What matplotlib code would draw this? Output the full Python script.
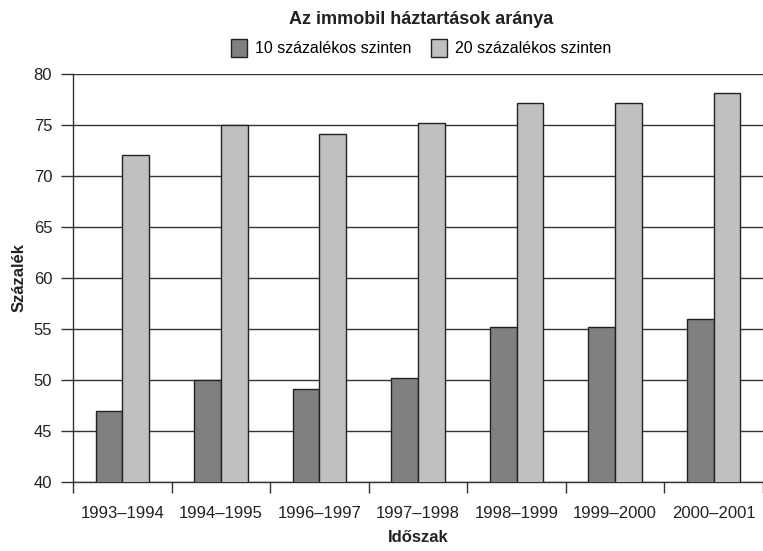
import numpy as np
import matplotlib
matplotlib.use("Agg")
import matplotlib.pyplot as plt
from matplotlib.patches import Patch

# Data
periods = ["1993–1994", "1994–1995", "1996–1997", "1997–1998",
           "1998–1999", "1999–2000", "2000–2001"]
level_10 = [47.0, 50.0, 49.1, 50.2, 55.2, 55.2, 56.0]
level_20 = [72.1, 75.0, 74.1, 75.2, 77.2, 77.2, 78.1]
series_names = ["10 százalékos szinten", "20 százalékos szinten"]
yticks = [40, 45, 50, 55, 60, 65, 70, 75, 80]

plt.rcParams['font.family'] = ["Liberation Sans", "DejaVu Sans"]

fig = plt.figure(figsize=(7.63, 5.51), dpi=100)
ax = fig.add_axes([0.0957, 0.1252, 0.9043, 0.7405])

x = np.arange(len(periods))
w = 0.271
ax.bar(x - w / 2, level_10, width=w, color="#808080", edgecolor="#222222",
       linewidth=1.0, zorder=3)
ax.bar(x + w / 2, level_20, width=w, color="#c0c0c0", edgecolor="#222222",
       linewidth=1.0, zorder=3)

ax.set_xlim(-0.5, len(periods) - 0.5)
ax.set_ylim(40, 80)
ax.set_yticks(yticks)
ax.set_yticklabels([str(t) for t in yticks], fontsize=12, color="#222222")
ax.yaxis.grid(True, color="#333333", linewidth=1.0, zorder=0)
ax.set_axisbelow(True)

# category ticks sit between the groups
ax.set_xticks(np.arange(len(periods) + 1) - 0.5)
ax.set_xticklabels([""] * (len(periods) + 1))
ax.set_xticks(x, minor=True)
ax.set_xticklabels(periods, minor=True, fontsize=12, color="#222222")
ax.tick_params(axis="x", which="minor", length=0, pad=17)
ax.tick_params(axis="x", which="major", length=8, width=1, color="#333333")
ax.tick_params(axis="y", length=9, width=1, color="#333333", pad=6)

for s in ["top", "right"]:
    ax.spines[s].set_visible(False)
for s in ["left", "bottom"]:
    ax.spines[s].set_color("#333333")
    ax.spines[s].set_linewidth(1.0)

ax.set_xlabel("Időszak", fontsize=12, fontweight="bold",
              labelpad=7, color="#222222")
ax.set_ylabel("Százalék", fontsize=12, fontweight="bold",
              labelpad=5, color="#222222")

fig.text(0.552, 0.964, "Az immobil háztartások aránya", ha="center", va="center",
         fontsize=13, fontweight="bold", color="#222222")

handles = [Patch(facecolor="#808080", edgecolor="#222222", label=series_names[0]),
           Patch(facecolor="#c0c0c0", edgecolor="#222222", label=series_names[1])]
fig.legend(handles=handles, loc="center", bbox_to_anchor=(0.552, 0.913), ncol=2,
           frameon=False, prop={"size": 11.5},
           handlelength=1.0, handleheight=1.3, handletextpad=0.5,
           columnspacing=1.2)

fig.savefig("out.png", dpi=100)
